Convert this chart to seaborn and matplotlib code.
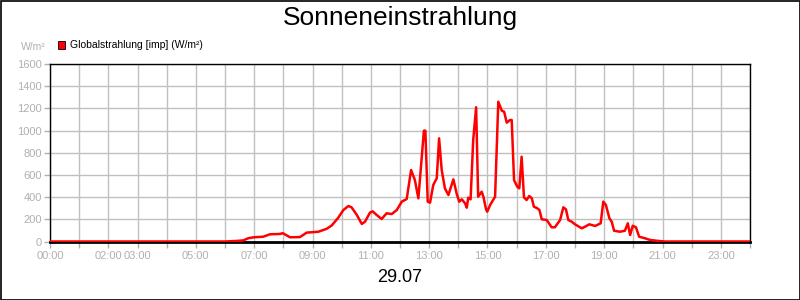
import matplotlib
matplotlib.use("Agg")
import matplotlib.pyplot as plt
import seaborn as sns
import pandas as pd
from matplotlib.patches import Rectangle

# ---- data ----
hours = [0.0, 6.0, 6.40, 6.63, 6.80, 6.99, 7.31, 7.54, 7.89, 7.98, 8.23, 8.57, 8.80, 9.20,
         9.49, 9.66, 9.87, 10.06, 10.23, 10.34, 10.52, 10.69, 10.80, 10.97, 11.06, 11.20,
         11.37, 11.54, 11.72, 11.89, 12.06, 12.23, 12.38, 12.51, 12.63, 12.82, 12.87, 12.95,
         13.03, 13.14, 13.26, 13.34, 13.43, 13.54, 13.66, 13.83, 13.94, 14.03, 14.12, 14.23,
         14.29, 14.34, 14.42, 14.51, 14.61, 14.68, 14.80, 14.86, 14.95, 14.99, 15.09, 15.26,
         15.37, 15.49, 15.57, 15.66, 15.77, 15.83, 15.91, 16.02, 16.09, 16.17, 16.25, 16.34,
         16.43, 16.52, 16.59, 16.71, 16.78, 16.86, 17.03, 17.20, 17.31, 17.49, 17.60, 17.69,
         17.77, 17.89, 18.00, 18.23, 18.34, 18.49, 18.69, 18.88, 18.97, 19.06, 19.18, 19.26,
         19.34, 19.54, 19.71, 19.81, 19.89, 19.98, 20.09, 20.20, 20.40, 20.57, 20.86, 21.09,
         24.0]
values = [0, 0, 5, 10, 30, 38, 43, 65, 68, 75, 38, 40, 80, 88,
          115, 145, 210, 284, 320, 308, 239, 158, 178, 260, 272, 239,
          203, 254, 248, 284, 359, 383, 644, 554, 389, 999, 999, 359,
          350, 509, 570, 930, 644, 479, 419, 560, 434, 359, 380, 344,
          305, 395, 380, 915, 1210, 404, 449, 404, 290, 269, 329, 404,
          1260, 1179, 1170, 1071, 1095, 1095, 554, 494, 479, 764, 398, 374,
          410, 389, 314, 299, 284, 200, 194, 128, 128, 194, 308, 290,
          194, 178, 155, 119, 133, 155, 140, 164, 359, 329, 209, 178,
          97, 88, 97, 164, 59, 142, 128, 43, 29, 14, 5, 0,
          0]
tick_hours = list(range(25))
tick_labels = {0: "00:00", 2: "02:00", 3: "03:00", 5: "05:00", 7: "07:00", 9: "09:00",
               11: "11:00", 13: "13:00", 15: "15:00", 17: "17:00", 19: "19:00",
               21: "21:00", 23: "23:00"}
y_ticks = [0, 200, 400, 600, 800, 1000, 1200, 1400, 1600]

title = "Sonneneinstrahlung"
series_name = "Globalstrahlung [imp] (W/m²)"
unit = "W/m²"
date_label = "29.07"

df = pd.DataFrame({"hour": hours, "value": values})

sns.set_theme(style="white")
plt.rcParams["font.family"] = ["Liberation Sans", "DejaVu Sans"]

fig = plt.figure(figsize=(8, 3), dpi=100)
ax = fig.add_axes([50 / 800, 1 - 241.5 / 300, 700 / 800, (241.5 - 64) / 300])

sns.lineplot(data=df, x="hour", y="value", ax=ax, color="#ff0000", linewidth=1.8, zorder=3)

ax.set_xlim(0, 24)
ax.set_ylim(0, 1600)
ax.set_xticks(tick_hours)
ax.set_xticklabels([tick_labels.get(h, "") for h in tick_hours])
ax.set_yticks(y_ticks)
ax.set_yticklabels([str(v) for v in y_ticks])
ax.set_xlabel("")
ax.set_ylabel("")
ax.grid(True, color="#c0c0c0", linewidth=1.0, zorder=0)
ax.set_axisbelow(True)

label_color = "#b0b0b0"
ax.tick_params(axis="both", which="both", colors="#b0b0b0", labelcolor=label_color,
               labelsize=8, length=4, width=1, direction="out", bottom=True, left=True)
ax.tick_params(axis="x", pad=3)
ax.tick_params(axis="y", pad=2)
for side in ["top", "right", "left"]:
    ax.spines[side].set_color("black")
    ax.spines[side].set_linewidth(1.0)
ax.spines["bottom"].set_color("black")
ax.spines["bottom"].set_linewidth(2.0)

fig.text(0.5, 1 - 18 / 300, title, ha="center", va="center", fontsize=19, color="black")
fig.text(0.5, 1 - 277 / 300, date_label, ha="center", va="center", fontsize=13, color="black")
fig.text(46 / 800, 1 - 47 / 300, unit, ha="right", va="center", fontsize=7.5, color=label_color)
fig.patches.append(Rectangle((58 / 800, 1 - 48.5 / 300), 7.5 / 800, 7.5 / 300,
                             transform=fig.transFigure, facecolor="#ff0000",
                             edgecolor="black", linewidth=0.6))
fig.text(70 / 800, 1 - 44.5 / 300, series_name, ha="left", va="center", fontsize=7.5, color="black")

fig.patches.append(Rectangle((0.5 / 800, 0.5 / 300), 799 / 800, 299 / 300,
                             transform=fig.transFigure, facecolor="none",
                             edgecolor="black", linewidth=1.2))

fig.savefig("out.png", dpi=100)
